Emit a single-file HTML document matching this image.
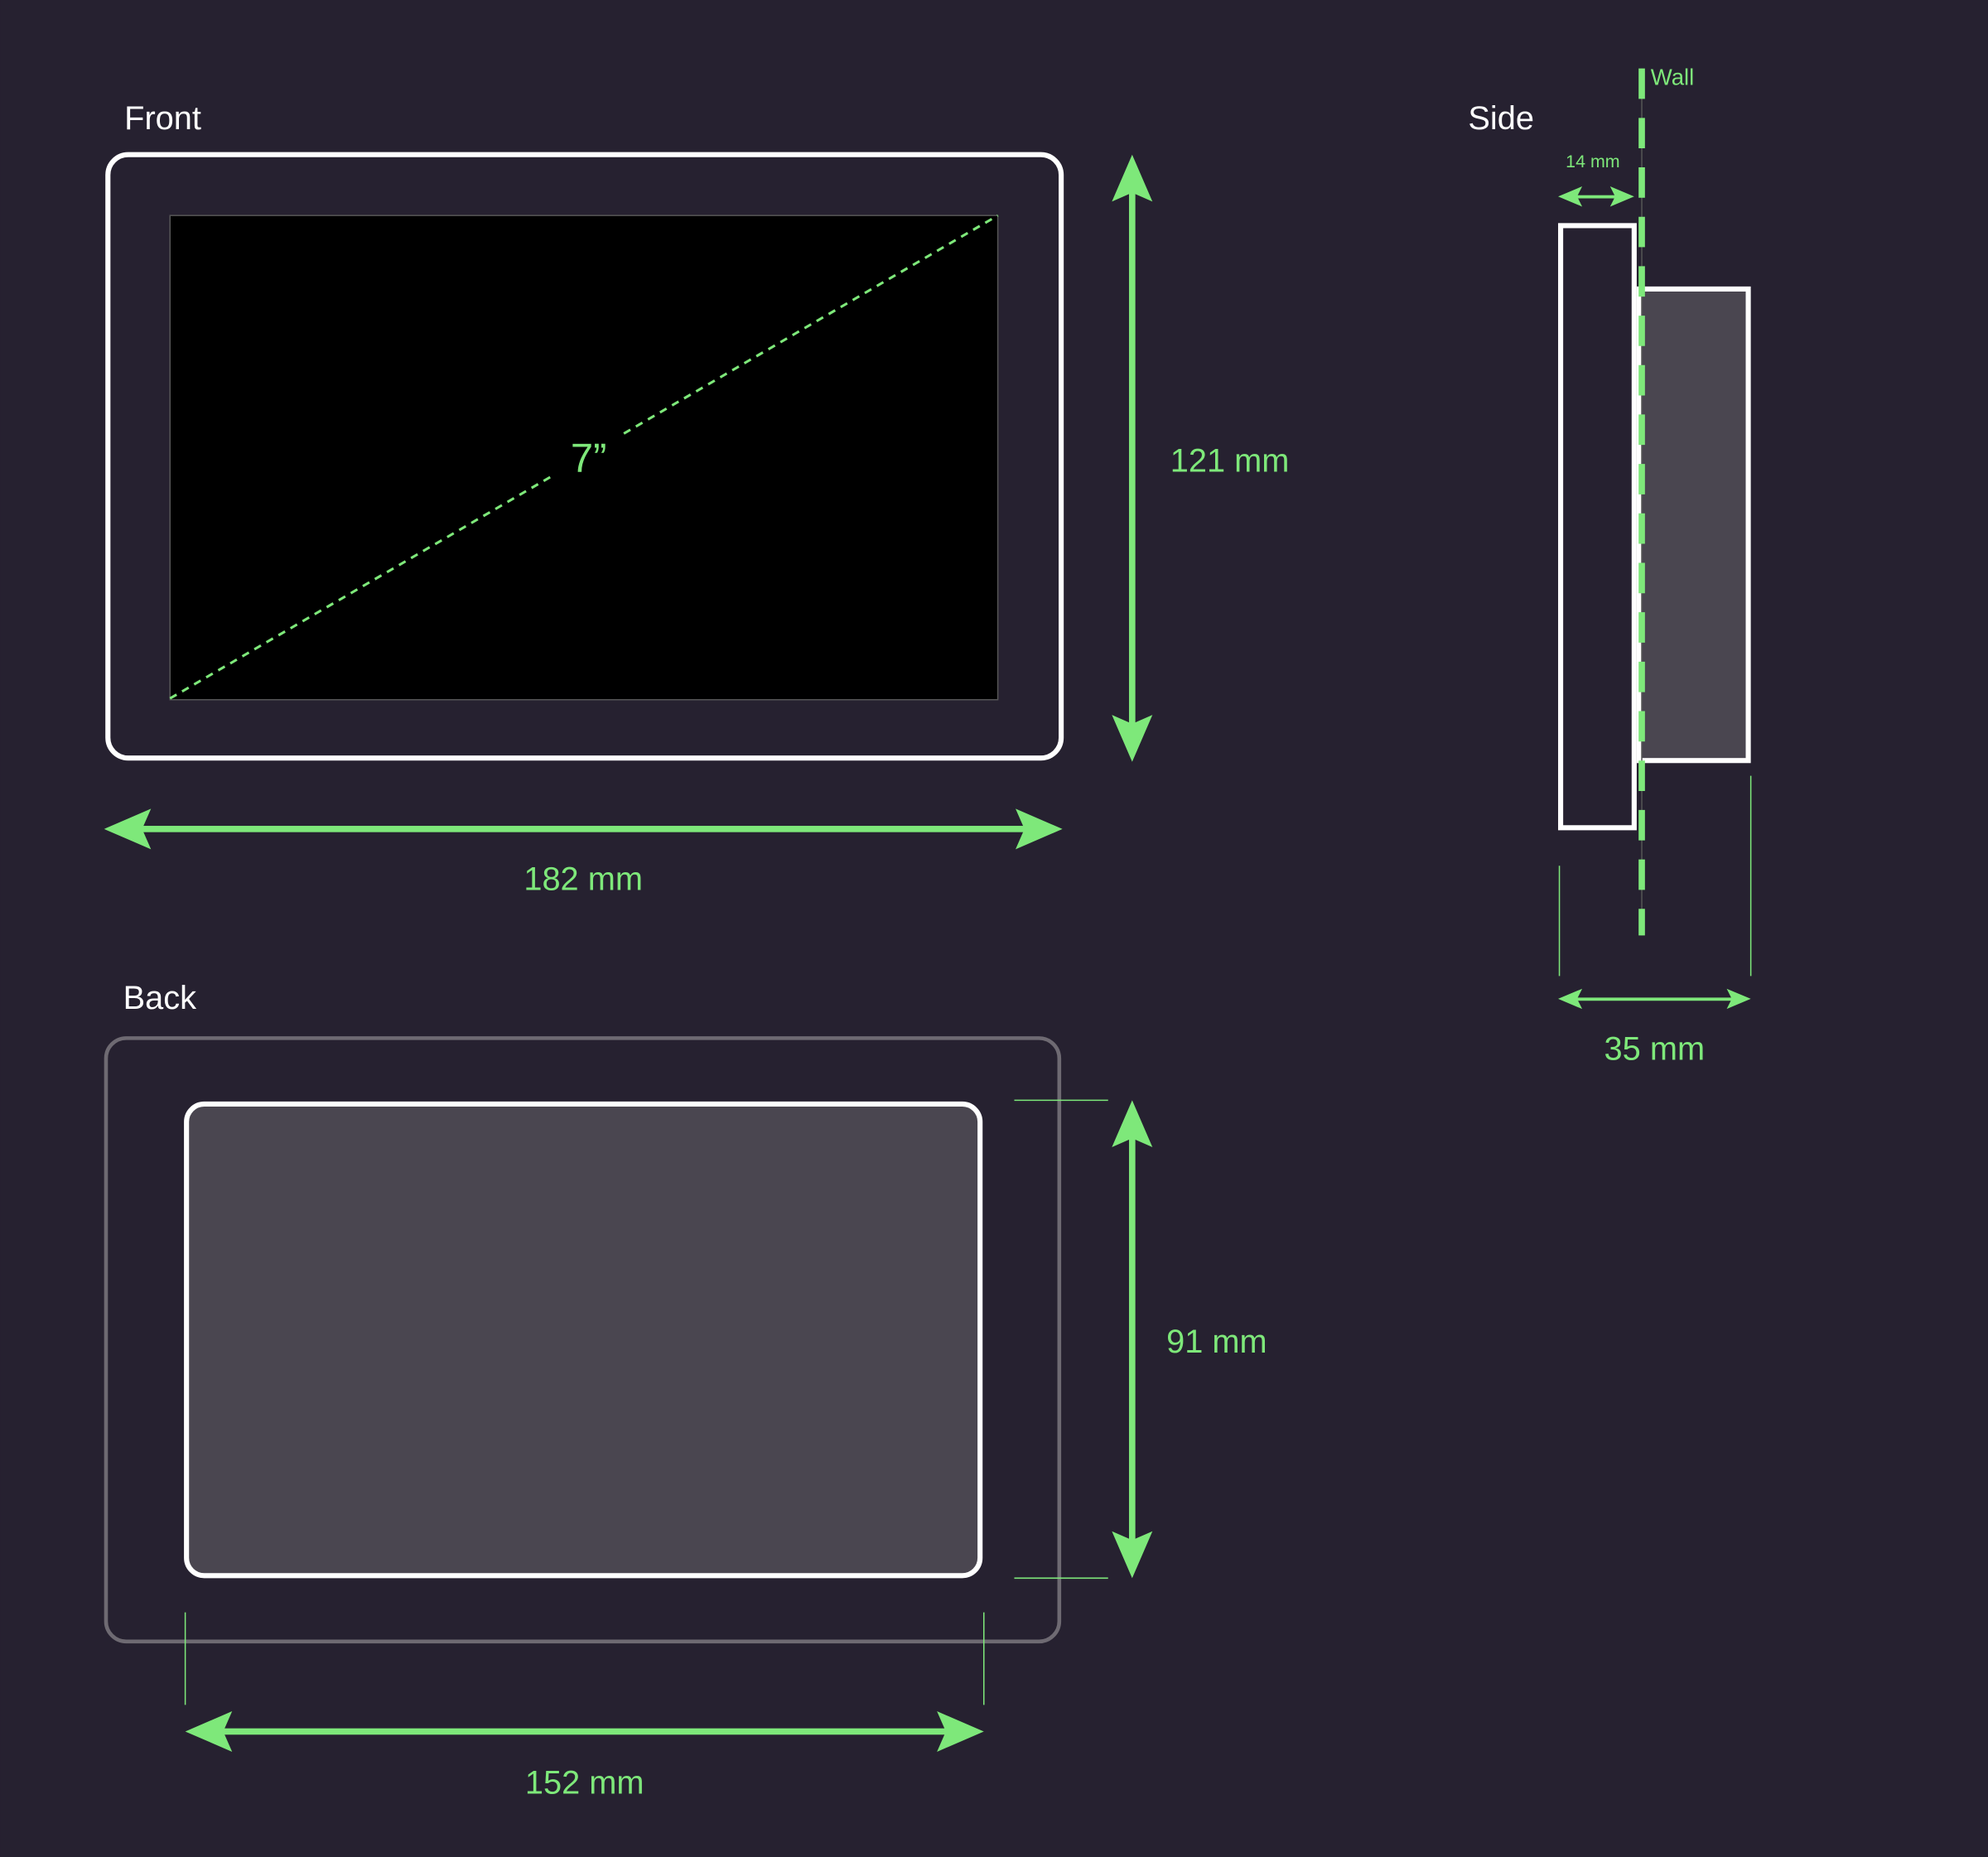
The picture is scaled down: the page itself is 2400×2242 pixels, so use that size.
<!DOCTYPE html>
<html><head><meta charset="utf-8"><style>
html,body{margin:0;padding:0;background:#262130;}
svg{display:block}
text{font-family:"Liberation Sans",sans-serif}
</style></head><body>
<svg width="2400" height="2242" viewBox="0 0 1568 1465" xmlns="http://www.w3.org/2000/svg">
<rect width="1568" height="1465" fill="#262130"/>
<g fill="#7ee87a" stroke="none">
<rect x="108" y="651.5" width="704" height="5"/>
<path d="M82,654 L119,638 L112,654 L119,670 Z"/>
<path d="M838,654 L801,638 L808,654 L801,670 Z"/>
<rect x="890.5" y="148" width="5" height="428"/>
<path d="M893,122 L877,159 L893,152 L909,159 Z"/>
<path d="M893,601 L877,564 L893,571 L909,564 Z"/>
<rect x="172" y="1363.5" width="578" height="5"/>
<path d="M146,1366 L183,1350 L176,1366 L183,1382 Z"/>
<path d="M776,1366 L739,1350 L746,1366 L739,1382 Z"/>
<rect x="890.5" y="894" width="5" height="325"/>
<path d="M893,868 L877,905 L893,898 L909,905 Z"/>
<path d="M893,1245 L877,1208 L893,1215 L909,1208 Z"/>
<rect x="1240" y="787" width="130" height="2.5"/>
<path d="M1229,788 L1248,780 L1244,788 L1248,796 Z"/>
<path d="M1381,788 L1362,780 L1366,788 L1362,796 Z"/>
<rect x="1238" y="154" width="42" height="2.5"/>
<path d="M1229,155 L1248,147 L1244,155 L1248,163 Z"/>
<path d="M1289,155 L1270,147 L1274,155 L1270,163 Z"/>
</g>
<rect x="85" y="122" width="752" height="476" rx="16" fill="none" stroke="#fff" stroke-width="4"/>
<rect x="134" y="170" width="653" height="382" fill="#000" stroke="#555" stroke-width="1"/>
<line x1="134" y1="551" x2="438" y2="374" stroke="#7ee87a" stroke-width="2" stroke-dasharray="6,5"/>
<line x1="492" y1="342" x2="787" y2="170" stroke="#7ee87a" stroke-width="2" stroke-dasharray="6,5"/>
<text x="450" y="372" font-size="32" fill="#7ee87a">7”</text>
<text x="98" y="102" font-size="26" fill="#fff">Front</text>
<text x="460" y="702" font-size="26" fill="#7ee87a" text-anchor="middle">182 mm</text>
<text x="923" y="372" font-size="26" fill="#7ee87a">121 mm</text>
<rect x="83.5" y="819" width="752" height="476" rx="16" fill="none" stroke="#6e6a72" stroke-width="3"/>
<rect x="147" y="871" width="626" height="372" rx="14" fill="#4a4650" stroke="#fff" stroke-width="4"/>
<g stroke="#7ee87a" stroke-width="1">
<line x1="800" y1="868" x2="874" y2="868"/>
<line x1="800" y1="1245" x2="874" y2="1245"/>
<line x1="146" y1="1272" x2="146" y2="1345"/>
<line x1="776" y1="1272" x2="776" y2="1345"/>
<line x1="1230" y1="683" x2="1230" y2="770"/>
<line x1="1381" y1="612" x2="1381" y2="770"/>
</g>
<text x="97" y="796" font-size="26" fill="#fff">Back</text>
<text x="920" y="1067" font-size="26" fill="#7ee87a">91 mm</text>
<text x="461" y="1415" font-size="26" fill="#7ee87a" text-anchor="middle">152 mm</text>
<rect x="1293" y="228" width="86" height="372" fill="#4a4650" stroke="#fff" stroke-width="4"/>
<rect x="1231" y="178" width="58" height="475" fill="none" stroke="#fff" stroke-width="4"/>
<line x1="1295" y1="54" x2="1295" y2="738" stroke="#555" stroke-width="1"/>
<line x1="1295" y1="54" x2="1295" y2="738" stroke="#7ee87a" stroke-width="5" stroke-dasharray="24,15"/>
<text x="1302" y="67" font-size="18" fill="#7ee87a">Wall</text>
<text x="1235" y="132" font-size="14" fill="#7ee87a">14 mm</text>
<text x="1158" y="102" font-size="26" fill="#fff">Side</text>
<text x="1305" y="836" font-size="26" fill="#7ee87a" text-anchor="middle">35 mm</text>
</svg>
</body></html>
